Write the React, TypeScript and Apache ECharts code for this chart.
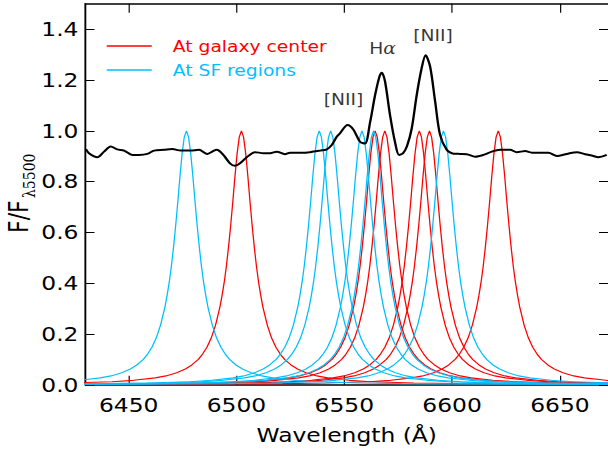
import React, { useEffect, useRef } from "react";
import * as echarts from "echarts";

// ---- data ----
const xTicks = [6450, 6500, 6550, 6600, 6650];
const yTicks = [0, 0.2, 0.4, 0.6, 0.8, 1.0, 1.2, 1.4];

const centerPeaks = [6502.3, 6564.3, 6568.8, 6584.8, 6589.5, 6621.4]; // red
const sfPeaks = [6476.8, 6538.4, 6543.7, 6558.2, 6563.6, 6596.0]; // blue

// shared filter transmission profile (offset in Å from centre, relative value)
const profileOffsets = [0, 1, 2, 3, 4, 5, 6, 7, 8, 9, 10, 12, 14, 16, 18, 20, 23, 26, 30, 35, 40, 50, 60, 80, 100, 150, 200];
const profileValues = [1, 0.975, 0.91, 0.82, 0.72, 0.625, 0.54, 0.465, 0.402, 0.35, 0.305, 0.235, 0.184, 0.148, 0.121, 0.1, 0.078, 0.062, 0.0475, 0.035, 0.0273, 0.0176, 0.0123, 0.007, 0.0045, 0.002, 0.0011];

const specWave = [6430.2, 6431.6, 6435.5, 6438.6, 6441.7, 6444.7, 6447.9, 6451.7, 6454.8, 6458.7, 6461.8, 6466.4, 6470.3, 6474.2, 6478.8, 6482.6, 6486.5, 6489.6, 6490.9, 6493.9, 6497.0, 6499.3, 6501.7, 6504.8, 6508.6, 6512.5, 6515.6, 6518.7, 6522.5, 6524.9, 6529.5, 6534.1, 6538.8, 6541.9, 6544.2, 6546.5, 6548.0, 6551.5, 6554.2, 6557.3, 6559.6, 6562.0, 6564.3, 6566.3, 6567.4, 6568.9, 6571.2, 6573.5, 6575.4, 6577.3, 6579.1, 6581.3, 6583.6, 6585.9, 6587.7, 6589.8, 6592.1, 6594.4, 6597.5, 6600.6, 6603.7, 6606.8, 6610.7, 6614.5, 6618.4, 6622.3, 6626.9, 6630.0, 6633.9, 6637.0, 6640.8, 6644.7, 6648.6, 6653.2, 6657.8, 6661.7, 6665.5, 6667.8, 6671.7];
const specFlux = [0.928, 0.912, 0.896, 0.918, 0.938, 0.927, 0.922, 0.905, 0.905, 0.909, 0.922, 0.925, 0.928, 0.922, 0.922, 0.925, 0.909, 0.922, 0.925, 0.905, 0.872, 0.862, 0.872, 0.896, 0.916, 0.912, 0.912, 0.918, 0.908, 0.914, 0.914, 0.916, 0.922, 0.927, 0.944, 0.977, 0.99, 1.023, 1.005, 0.957, 0.95, 1.035, 1.141, 1.213, 1.229, 1.194, 1.063, 0.957, 0.905, 0.912, 0.94, 1.01, 1.141, 1.247, 1.297, 1.253, 1.118, 0.985, 0.925, 0.91, 0.909, 0.908, 0.898, 0.905, 0.918, 0.925, 0.925, 0.916, 0.92, 0.914, 0.914, 0.914, 0.901, 0.909, 0.916, 0.908, 0.901, 0.896, 0.905];

const lineLabels = ["[NII]", "H{i|α}", "[NII]"];
const labelWave = [6549.7, 6567.8, 6591.2];
const labelFlux = [1.123, 1.325, 1.374];

const seriesNames = ["At galaxy center", "At SF regions"];
const colors = ["#ff0000", "#00bfff"];

// ---- layout ----
const OUT_W = 608;
const IN_W = 520;
const S = OUT_W / IN_W;
const FONT = "DejaVu Sans";

function profileCurve(center: number): number[][] {
  const pts: number[][] = [];
  for (let i = profileOffsets.length - 1; i > 0; i--) {
    pts.push([center - profileOffsets[i], profileValues[i]]);
  }
  for (let i = 0; i < profileOffsets.length; i++) {
    pts.push([center + profileOffsets[i], profileValues[i]]);
  }
  return pts;
}

export default function App() {
  const ref = useRef<HTMLDivElement>(null);
  useEffect(() => {
    if (!ref.current) return;
    const chart = echarts.init(ref.current, undefined, { renderer: "svg" });
    const xMin = 6430;
    const xMax = 6672.3;

    const filterSeries: any[] = [];
    centerPeaks.forEach((c) =>
      filterSeries.push({
        type: "line",
        name: seriesNames[0],
        data: profileCurve(c),
        symbol: "none",
        lineStyle: { color: colors[0], width: 1.1 },
        itemStyle: { color: colors[0] },
        z: 2,
      })
    );
    sfPeaks.forEach((c) =>
      filterSeries.push({
        type: "line",
        name: seriesNames[1],
        data: profileCurve(c),
        symbol: "none",
        lineStyle: { color: colors[1], width: 1.1 },
        itemStyle: { color: colors[1] },
        z: 3,
      })
    );

    const axisLineStyle = { color: "#000", width: 1.6 };
    chart.setOption({
      animation: false,
      grid: { left: 85.5 / S, right: 0, top: 3.8, bottom: 67.2, containLabel: false },
      legend: {
        orient: "vertical",
        left: 91.3,
        top: 38,
        padding: 0,
        icon: "rect",
        itemWidth: 38.5,
        itemHeight: 1.3,
        itemGap: 8,
        data: [
          { name: seriesNames[0], textStyle: { color: colors[0] } },
          { name: seriesNames[1], textStyle: { color: colors[1] } },
        ],
        textStyle: { fontSize: 16, fontFamily: FONT, padding: [0, 0, 0, 13] },
      },
      xAxis: [
        {
          type: "value",
          min: xMin,
          max: xMax,
          position: "bottom",
          axisLine: { show: true, onZero: false, lineStyle: axisLineStyle },
          axisTick: { show: true, inside: true, length: 9, customValues: xTicks, lineStyle: { color: "#000", width: 1 } },
          axisLabel: {
            customValues: xTicks,
            color: "#000",
            fontSize: 20,
            fontFamily: FONT,
            margin: 10,
            formatter: (v: number) => String(v),
          },
          splitLine: { show: false },
          name: "Wavelength (Å)",
          nameLocation: "middle",
          nameGap: 40,
          nameTextStyle: { color: "#000", fontSize: 20, fontFamily: FONT },
        },
        {
          type: "value",
          min: xMin,
          max: xMax,
          position: "top",
          axisLine: { show: true, onZero: false, lineStyle: axisLineStyle },
          axisTick: { show: true, inside: true, length: 9, customValues: xTicks, lineStyle: { color: "#000", width: 1 } },
          axisLabel: { show: false },
          splitLine: { show: false },
        },
      ],
      yAxis: [
        {
          type: "value",
          min: 0,
          max: 1.5,
          position: "left",
          axisLine: { show: true, onZero: false, lineStyle: axisLineStyle },
          axisTick: { show: true, inside: true, length: 9 / S, customValues: yTicks, lineStyle: { color: "#000", width: 1 } },
          axisLabel: {
            customValues: yTicks,
            color: "#000",
            fontSize: 20,
            fontFamily: FONT,
            margin: 6,
            formatter: (v: number) => v.toFixed(1),
          },
          splitLine: { show: false },
        },
        {
          type: "value",
          min: 0,
          max: 1.5,
          position: "right",
          axisLine: { show: false },
          axisTick: { show: true, inside: true, length: 9 / S, customValues: yTicks, lineStyle: { color: "#000", width: 1 } },
          axisLabel: { show: false },
          splitLine: { show: false },
        },
      ],
      graphic: [
        {
          type: "text",
          x: 16.8,
          y: 233,
          rotation: Math.PI / 2,
          style: { text: "F/F", fontSize: 22, fontFamily: FONT, fill: "#000", align: "left", verticalAlign: "middle" },
        },
        {
          type: "text",
          x: 25,
          y: 198,
          rotation: Math.PI / 2,
          style: { text: "λ5500", fontSize: 14, fontFamily: "DejaVu Serif", fill: "#000", align: "left", verticalAlign: "middle" },
        },
      ],
      series: [
        ...filterSeries,
        {
          type: "line",
          name: "spectrum",
          data: specWave.map((w, i) => [w, specFlux[i]]),
          symbol: "none",
          smooth: 0.3,
          lineStyle: { color: "#000", width: 2 },
          itemStyle: { color: "#000" },
          z: 5,
        },
        {
          type: "scatter",
          name: "labels",
          symbolSize: 1,
          itemStyle: { color: "rgba(0,0,0,0)" },
          silent: true,
          z: 6,
          data: labelWave.map((w, i) => ({
            value: [w, labelFlux[i]],
            label: { formatter: lineLabels[i] },
          })),
          label: {
            show: true,
            position: "inside",
            color: "#000",
            fontSize: 16,
            fontFamily: FONT,
            rich: { i: { fontStyle: "italic", fontFamily: "DejaVu Serif", fontSize: 16, color: "#000" } },
          },
        },
      ],
    });
    return () => chart.dispose();
  }, []);
  return (
    <div
      ref={ref}
      style={{
        position: "fixed",
        left: 0,
        top: 0,
        width: IN_W,
        height: 452,
        transform: `scaleX(${S})`,
        transformOrigin: "0 0",
        background: "#fff",
      }}
    />
  );
}
